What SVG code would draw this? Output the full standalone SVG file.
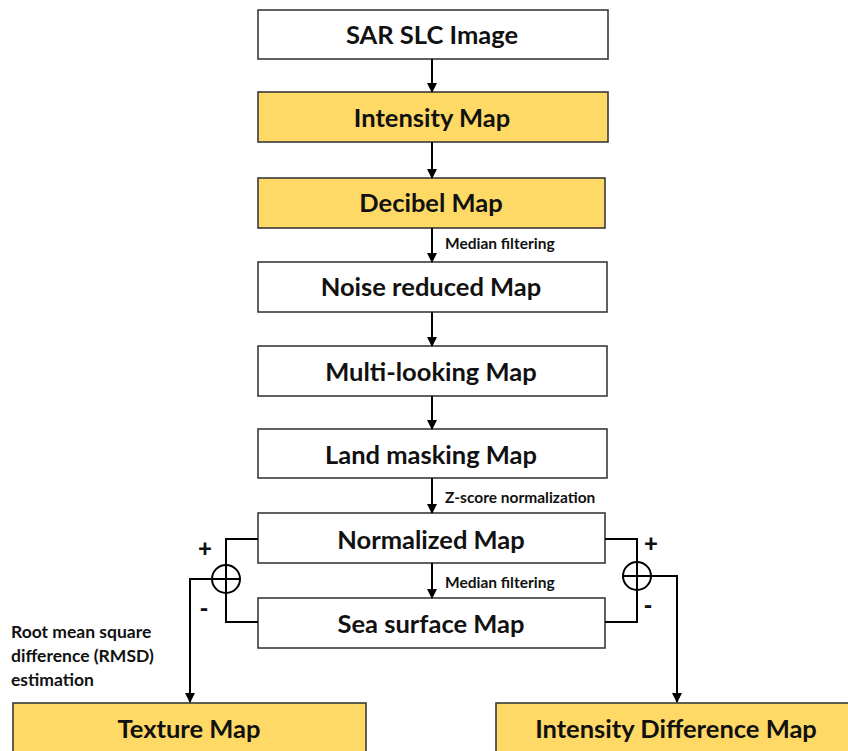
<svg xmlns="http://www.w3.org/2000/svg" width="848" height="751" viewBox="0 0 848 751">
<defs>
<marker id="ah" markerWidth="10" markerHeight="10" refX="9" refY="5" orient="auto" markerUnits="userSpaceOnUse">
<path d="M0,0 L10,5 L0,10 z" fill="#000"/>
</marker>
<style>
.box{stroke:#3a3a3a;stroke-width:1.6;fill:#fff}
.y{fill:#FFD966}
.t{font-family:Lato,"Liberation Sans",sans-serif;font-weight:bold;font-size:25.5px;fill:#111;text-anchor:middle;dominant-baseline:central}
.s{font-family:Lato,"Liberation Sans",sans-serif;font-weight:bold;font-size:15.5px;fill:#111;dominant-baseline:central}
.l{font-family:Lato,"Liberation Sans",sans-serif;font-weight:bold;font-size:17.5px;fill:#111}
.c{stroke:#000;stroke-width:2;fill:none}
.a{stroke:#000;stroke-width:2;fill:none;marker-end:url(#ah)}
.pm{font-family:Lato,"Liberation Sans",sans-serif;font-weight:900;font-size:24px;fill:#111;text-anchor:middle;dominant-baseline:central}
</style>
</defs>
<rect width="848" height="751" fill="#fff"/>
<g id="n1"><rect class="box" x="258" y="10" width="350" height="49"/><text class="t" x="432" y="34">SAR SLC Image</text></g>
<g id="n2"><rect class="box y" x="258" y="92" width="350" height="50"/><text class="t" x="432" y="117">Intensity Map</text></g>
<g id="n3"><rect class="box y" x="258" y="178" width="347" height="50"/><text class="t" x="431" y="202">Decibel Map</text></g>
<g id="n4"><rect class="box" x="258" y="262" width="349" height="50"/><text class="t" x="431" y="286">Noise reduced Map</text></g>
<g id="n5"><rect class="box" x="258" y="346" width="349" height="50"/><text class="t" x="431" y="371">Multi-looking Map</text></g>
<g id="n6"><rect class="box" x="258" y="429" width="349" height="49"/><text class="t" x="431" y="454">Land masking Map</text></g>
<g id="n7"><rect class="box" x="258" y="513" width="347" height="50"/><text class="t" x="431" y="539">Normalized Map</text></g>
<g id="n8"><rect class="box" x="258" y="598" width="347" height="50"/><text class="t" x="431" y="623">Sea surface Map</text></g>
<g id="n9"><rect class="box y" x="13" y="703" width="353" height="60"/><text class="t" x="189" y="728">Texture Map</text></g>
<g id="n10"><rect class="box y" x="496" y="703" width="370" height="60"/><text class="t" x="676" y="728">Intensity Difference Map</text></g>
<g id="sum1"><circle class="c" cx="226" cy="579" r="14"/><line class="c" x1="212" y1="579" x2="240" y2="579"/><line class="c" x1="226" y1="565" x2="226" y2="593"/></g>
<g id="sum2"><circle class="c" cx="637" cy="576" r="14"/><line class="c" x1="623" y1="576" x2="651" y2="576"/><line class="c" x1="637" y1="562" x2="637" y2="590"/></g>
<g id="connectors">
<line class="a" x1="432" y1="59" x2="432" y2="92"/>
<line class="a" x1="432" y1="142" x2="432" y2="178"/>
<line class="a" x1="432" y1="228" x2="432" y2="262"/>
<line class="a" x1="432" y1="312" x2="432" y2="346"/>
<line class="a" x1="432" y1="396" x2="432" y2="429"/>
<line class="a" x1="432" y1="478" x2="432" y2="513"/>
<line class="a" x1="432" y1="563" x2="432" y2="598"/>
<polyline class="c" points="258,539 226,539 226,565"/>
<polyline class="c" points="258,622 226,622 226,593"/>
<polyline class="a" points="212,579 190,579 190,702"/>
<polyline class="c" points="605,539 637,539 637,562"/>
<polyline class="c" points="605,622 637,622 637,590"/>
<polyline class="a" points="651,576 677,576 677,702"/>
</g>
<g id="labels">
<text class="s" x="445" y="243">Median filtering</text>
<text class="s" x="445" y="497">Z-score normalization</text>
<text class="s" x="445" y="582">Median filtering</text>
<text class="l" x="11" y="638">Root mean square</text>
<text class="l" x="11" y="662">difference (RMSD)</text>
<text class="l" x="11" y="686">estimation</text>
<text class="pm" x="205" y="547">+</text>
<text class="pm" x="204" y="607">-</text>
<text class="pm" x="651" y="542">+</text>
<text class="pm" x="648" y="604">-</text>
</g>
</svg>
